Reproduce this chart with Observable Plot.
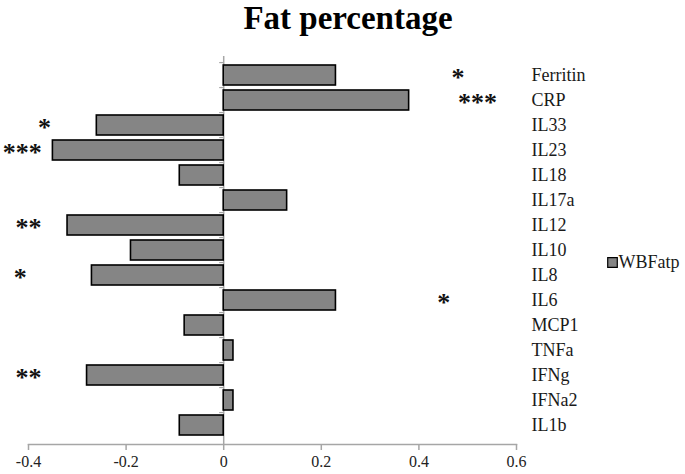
<!DOCTYPE html>
<html>
<head>
<meta charset="utf-8">
<script src="https://cdn.jsdelivr.net/npm/d3@7"></script>
<script src="https://cdn.jsdelivr.net/npm/@observablehq/plot@0.6"></script>
<style>
  html, body { margin: 0; padding: 0; background: #fff; }
  #title { width: 685px; height: 40px; font-family: "Liberation Serif", "Times New Roman", serif; font-weight: bold;
           font-size: 33px; line-height: 37px; text-align: center; box-sizing: border-box; padding-left: 11px;
           color: #000; }
  #chart svg { display: block; }
</style>
</head>
<body>
<div id="title">Fat percentage</div>
<div id="chart"></div>
<script>
const categories = ["Ferritin","CRP","IL33","IL23","IL18","IL17a","IL12","IL10","IL8","IL6","MCP1","TNFa","IFNg","IFNa2","IL1b"];
const values = [0.23, 0.38, -0.26, -0.35, -0.09, 0.13, -0.32, -0.19, -0.27, 0.23, -0.08, 0.02, -0.28, 0.02, -0.09];
const sigCategories = ["Ferritin","CRP","IL33","IL23","IL12","IL8","IL6","IFNg"];
const sigLabels = ["*","***","*","***","**","*","*","**"];
const sigX = [0.48, 0.52, -0.367, -0.413, -0.40, -0.417, 0.451, -0.40];
const xTicks = [-0.4, -0.2, 0, 0.2, 0.4, 0.6];
const seriesName = "WBFatp";

const data = categories.map((c, i) => ({cat: c, value: values[i]}));
const sig = sigCategories.map((c, i) => ({cat: c, label: sigLabels[i], x: sigX[i]}));

const W = 685, H = 434, mT = 16, mB = 30, mL = 28, mR = 169;
const step = (H - mT - mB) / categories.length;
const serif = "Liberation Serif";
const axisGray = "#a6a6a6";
const barFill = "#858585";

const chart = Plot.plot({
  width: W, height: H,
  marginTop: mT, marginBottom: mB, marginLeft: mL, marginRight: mR,
  style: "font-family: 'Liberation Serif', serif; background: #fff; overflow: visible;",
  x: {domain: [-0.4, 0.6], ticks: xTicks, label: null},
  y: {domain: categories, paddingInner: 0.19, paddingOuter: 0.095, label: null},
  marks: [
    Plot.frame({anchor: "bottom", stroke: axisGray, strokeWidth: 1.5}),
    Plot.ruleX([0], {stroke: axisGray, strokeWidth: 1.5}),
    Plot.ruleY(categories, {y: d => d, x1: 0, x2: 0, insetLeft: -4, dy: -step / 2, stroke: axisGray, strokeWidth: 1.2}),
    Plot.barX(data, {y: "cat", x1: 0, x2: "value", fill: barFill, stroke: "#000", strokeWidth: 1.6}),
    Plot.axisX({ticks: xTicks, tickSize: 6, tickPadding: 5, stroke: axisGray, strokeWidth: 1.5, label: null,
                tickFormat: d => d === 0 ? "0" : String(d), fontSize: 16, fill: "#222", fontFamily: serif}),
    Plot.axisY({anchor: "right", tickSize: 0, tickPadding: 15, fontSize: 18, fill: "#1a1a1a", textAnchor: "start", label: null, fontFamily: serif}),
    Plot.text(sig, {y: "cat", x: "x", text: "label", fontSize: 26, fontWeight: "bold", fill: "#111", textAnchor: "middle", dy: 2, clip: false, fontFamily: serif}),
    Plot.dot([seriesName], {frameAnchor: "right", dx: 96, dy: 12, symbol: "square", r: 5.4, fill: barFill, stroke: "#000", strokeWidth: 1.2}),
    Plot.text([seriesName], {frameAnchor: "right", dx: 102, dy: 12, text: d => d, textAnchor: "start", fontSize: 18, fill: "#1a1a1a", fontFamily: serif})
  ]
});
document.getElementById("chart").appendChild(chart);
</script>
</body>
</html>
